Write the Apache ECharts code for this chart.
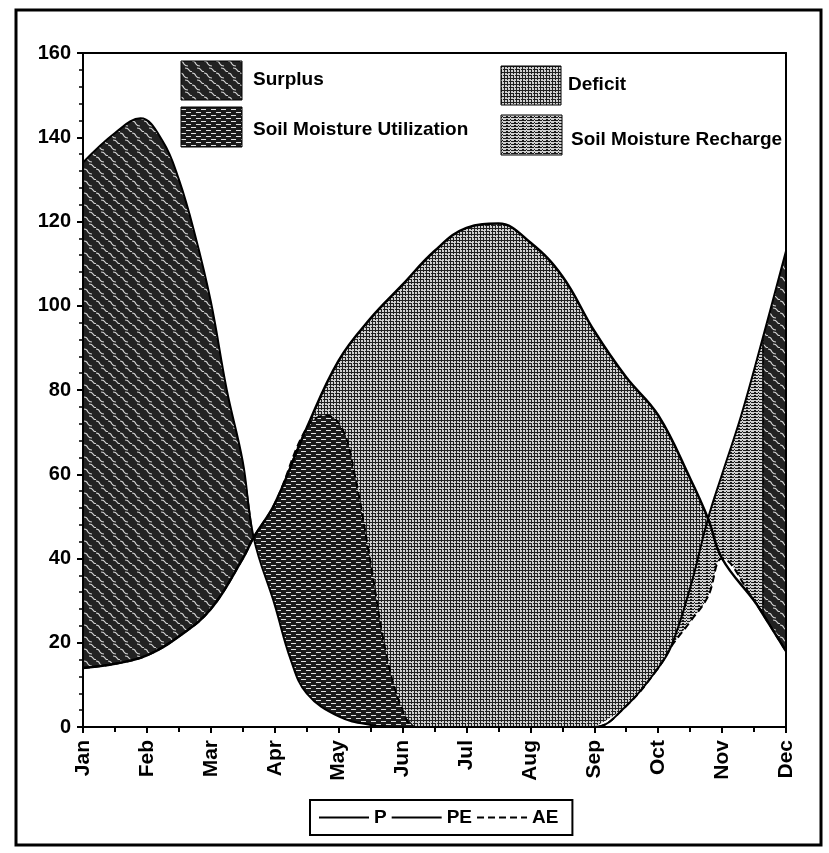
<!DOCTYPE html>
<html><head><meta charset="utf-8">
<script src="https://cdn.jsdelivr.net/npm/echarts@6/dist/echarts.min.js"></script>
<style>html,body{margin:0;padding:0;background:#fff}#c{width:829px;height:853px}</style>
</head><body><div id="c"></div>
<script>
// ---------- data ----------
const months = ['Jan','Feb','Mar','Apr','May','Jun','Jul','Aug','Sep','Oct','Nov','Dec'];
const yMin = 0, yMax = 160, yStep = 20;

// [month position, mm]
const P = [[0,134],[0.5,141],[0.9,144.5],[1.25,139],[1.5,130],[1.75,117],[2,101],[2.25,80],[2.5,63],[2.67,45],
  [3,29],[3.25,16],[3.5,8],[4,2.5],[4.5,0.5],[5,0],[6,0],[7,0],[8,0],[8.5,5],[9,14],[9.2,19],
  [9.5,33],[9.78,49.5],[10,60],[10.3,74],[10.63,92],[11,113]];
const PE = [[0,14],[0.5,15],[1,17],[1.5,21.5],[2,28],[2.5,40],[2.67,45],[3,53],[3.5,71],[4,87],[4.5,97],
  [5,105],[5.5,113],[6,118.5],[6.5,119.5],[7,115],[7.5,107],[8,94],[8.5,83],[9,74],
  [9.5,59],[9.78,49.5],[10,40],[10.5,30],[10.63,27],[11,18]];
const AE = [[0,14],[0.5,15],[1,17],[1.5,21.5],[2,28],[2.5,40],[2.67,45],[3,53],[3.5,71],[3.8,74],[4.05,71],
  [4.25,60],[4.5,39],[4.75,17],[5,4],[5.2,0],[6,0],[7,0],[8,0],[8.5,5],[9,14],[9.2,19],[9.5,25],
  [9.78,31],[10,40],[10.5,30],[10.63,27],[11,18]];

// region limits (month positions)
const surplusA = [0, 2.67];
const utilization = [2.67, 5.2];
const deficit = [2.67, 9.78];
const recharge = [9.2, 10.63];
const surplusB = [10.63, 11];
const soilEmpty = [8, 11];
const belowPEstart = [0, 3];   // white mask under PE at the start of the year

// ---------- patterns ----------
function tile(w, h, fn) {
  const c = document.createElement('canvas'); c.width = w; c.height = h;
  const g = c.getContext('2d'); fn(g); return { image: c, repeat: 'repeat' };
}
const surplusFill = tile(12, 12, g => {
  g.fillStyle = '#222'; g.fillRect(0, 0, 12, 12);
  g.strokeStyle = '#d0d0d0'; g.lineWidth = 1.2; g.beginPath();
  g.moveTo(0, 1); g.quadraticCurveTo(3, 1, 4, 4); g.quadraticCurveTo(5, 6, 8, 6);
  g.moveTo(5, 8); g.quadraticCurveTo(8, 8, 9, 10); g.quadraticCurveTo(10, 12, 12, 11.5);
  g.stroke();
});
const utilFill = tile(10, 6, g => {
  g.fillStyle = '#1a1a1a'; g.fillRect(0, 0, 10, 6);
  g.fillStyle = '#e0e0e0'; g.fillRect(1, 1, 5, 1); g.fillRect(6, 4, 4, 1); g.fillRect(0, 4, 1, 1);
});
const deficitFill = tile(6, 6, g => {
  g.fillStyle = '#d0d0d0'; g.fillRect(0, 0, 6, 6);
  g.fillStyle = '#202020';
  g.fillRect(0, 0, 6, 1); g.fillRect(0, 3, 4, 1); g.fillRect(5, 3, 1, 1);
  g.fillRect(0, 0, 1, 6); g.fillRect(3, 1, 1, 1); g.fillRect(3, 3, 1, 3);
});
const rechargeFill = tile(8, 3, g => {
  g.fillStyle = '#d0d0d0'; g.fillRect(0, 0, 8, 3);
  g.fillStyle = '#1a1a1a'; g.fillRect(0, 0, 6, 1); g.fillRect(7, 0, 1, 1);
  g.fillRect(2, 2, 2, 1); g.fillRect(6, 2, 1, 1);
});

// ---------- helpers ----------
const seg = (arr, r) => arr.filter(p => p[0] >= r[0] - 1e-9 && p[0] <= r[1] + 1e-9);
const valAt = (arr, x) => arr.find(p => Math.abs(p[0] - x) < 1e-9)[1];
const SMOOTH = 0.4;
function layer(name, data, fill, z) {
  return { name, type: 'line', data, smooth: SMOOTH, symbol: 'none', silent: true,
    lineStyle: { opacity: 0, width: 0 }, areaStyle: { color: fill, opacity: 1 }, z };
}
const font = 'Liberation Sans';

const whiteB = layer('_wB', seg(P, utilization), '#ffffff', 4);
// white seam cover along the left edge of the utilization area (below P)
whiteB.markLine = { symbol: 'none', silent: true, label: { show: false },
  lineStyle: { color: '#ffffff', width: 3, type: 'solid', opacity: 1 },
  data: [[{ coord: [utilization[0], 0] }, { coord: [utilization[0], valAt(P, utilization[0])] }]] };

const series = [
  layer('_sA', seg(P, surplusA), surplusFill, 1),
  layer('_wA', seg(PE, belowPEstart), '#ffffff', 2),
  layer('_def', seg(PE, deficit), deficitFill, 1),
  layer('_util', seg(AE, utilization), utilFill, 3),
  whiteB,
  layer('_rec', seg(P, recharge), rechargeFill, 3),
  layer('_sB', seg(P, surplusB), surplusFill, 3),
  layer('_wC', seg(AE, soilEmpty), '#ffffff', 4),
  { name: 'P', type: 'line', data: P, smooth: SMOOTH, symbol: 'none', z: 6,
    lineStyle: { color: '#000', width: 2 }, itemStyle: { color: '#000' },
    markLine: { symbol: 'none', silent: true, label: { show: false },
      lineStyle: { color: '#000', width: 1.5, type: 'solid' },
      data: [[{ coord: [surplusB[0], valAt(PE, surplusB[0])] }, { coord: [surplusB[0], valAt(P, surplusB[0])] }]] } },
  { name: 'PE', type: 'line', data: PE, smooth: SMOOTH, symbol: 'none', z: 6,
    lineStyle: { color: '#000', width: 2.5 }, itemStyle: { color: '#000' } },
  { name: 'AE', type: 'line', data: AE, smooth: SMOOTH, symbol: 'none', z: 7,
    lineStyle: { color: '#000', width: 2, type: [7, 4] }, itemStyle: { color: '#000' } }
];

const chart = echarts.init(document.getElementById('c'), null, { renderer: 'canvas' });
chart.setOption({
  animation: false,
  backgroundColor: '#fff',
  grid: { left: 83, right: 43, top: 53, bottom: 126 },
  xAxis: [
    { type: 'value', min: 0, max: months.length - 1, interval: 1, z: 10,
      axisLine: { show: true, onZero: false, lineStyle: { color: '#000', width: 2 } },
      axisTick: { show: true, length: 6, lineStyle: { color: '#000', width: 2 } },
      minorTick: { show: true, splitNumber: 2, length: 5, lineStyle: { color: '#000', width: 2 } },
      splitLine: { show: false }, minorSplitLine: { show: false },
      axisLabel: { rotate: 90, margin: 13, fontSize: 21, fontWeight: 'bold', fontFamily: font, color: '#000',
        formatter: v => months[Math.round(v)] || '' } },
    { type: 'value', position: 'top', min: 0, max: months.length - 1, z: 10,
      axisLine: { show: true, onZero: false, lineStyle: { color: '#000', width: 2 } },
      axisTick: { show: false }, axisLabel: { show: false }, splitLine: { show: false } }
  ],
  yAxis: [
    { type: 'value', min: yMin, max: yMax, interval: yStep, z: 10,
      axisLine: { show: true, onZero: false, lineStyle: { color: '#000', width: 2 } },
      axisTick: { show: true, length: 6, lineStyle: { color: '#000', width: 2 } },
      minorTick: { show: true, splitNumber: 5, length: 4, lineStyle: { color: '#000', width: 1.5 } },
      splitLine: { show: false }, minorSplitLine: { show: false },
      axisLabel: { margin: 12, fontSize: 20, fontWeight: 'bold', fontFamily: font, color: '#000' } },
    { type: 'value', position: 'right', min: yMin, max: yMax, z: 10,
      axisLine: { show: true, onZero: false, lineStyle: { color: '#000', width: 2 } },
      axisTick: { show: false }, axisLabel: { show: false }, splitLine: { show: false } }
  ],
  legend: { data: ['P', 'PE', 'AE'], left: 310, top: 800, itemWidth: 50, itemHeight: 14, itemGap: 4,
    padding: [8, 14, 8, 8], borderColor: '#000', borderWidth: 2, selectedMode: false,
    itemStyle: { opacity: 0 },
    textStyle: { fontWeight: 'bold', fontSize: 19, fontFamily: font, color: '#000' } },
  graphic: [
    { type: 'rect', silent: true, shape: { x: 16, y: 10, width: 805, height: 835 },
      style: { fill: 'transparent', stroke: '#000', lineWidth: 3 } },
    { type: 'rect', silent: true, z: 20, shape: { x: 181, y: 61, width: 61, height: 39 },
      style: { fill: surplusFill, stroke: '#000', lineWidth: 1 } },
    { type: 'text', silent: true, z: 20, x: 253, y: 80,
      style: { text: 'Surplus', fontSize: 19, fontWeight: 'bold', fontFamily: font, fill: '#000', verticalAlign: 'middle' } },
    { type: 'rect', silent: true, z: 20, shape: { x: 181, y: 107, width: 61, height: 40 },
      style: { fill: utilFill, stroke: '#000', lineWidth: 1 } },
    { type: 'text', silent: true, z: 20, x: 253, y: 130,
      style: { text: 'Soil Moisture Utilization', fontSize: 19, fontWeight: 'bold', fontFamily: font, fill: '#000', verticalAlign: 'middle' } },
    { type: 'rect', silent: true, z: 20, shape: { x: 501, y: 66, width: 60, height: 39 },
      style: { fill: deficitFill, stroke: '#000', lineWidth: 1 } },
    { type: 'text', silent: true, z: 20, x: 568, y: 85,
      style: { text: 'Deficit', fontSize: 19, fontWeight: 'bold', fontFamily: font, fill: '#000', verticalAlign: 'middle' } },
    { type: 'rect', silent: true, z: 20, shape: { x: 501, y: 115, width: 61, height: 40 },
      style: { fill: rechargeFill, stroke: '#000', lineWidth: 1 } },
    { type: 'text', silent: true, z: 20, x: 571, y: 140,
      style: { text: 'Soil Moisture Recharge', fontSize: 19, fontWeight: 'bold', fontFamily: font, fill: '#000', verticalAlign: 'middle' } }
  ],
  series
});
</script></body></html>
